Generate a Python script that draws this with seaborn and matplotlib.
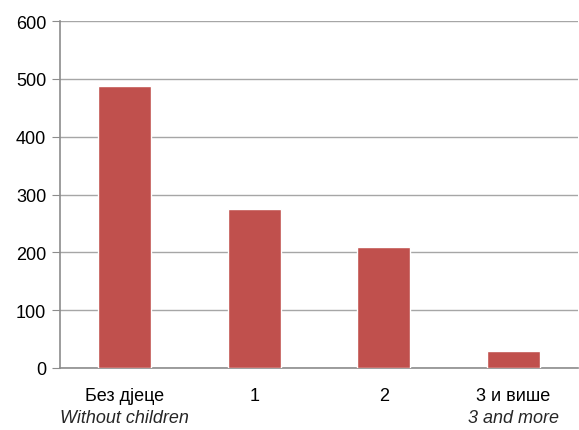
import matplotlib
matplotlib.use("Agg")
import matplotlib.pyplot as plt
import seaborn as sns
import pandas as pd

# data
categories = ["Без дјеце", "1", "2", "3 и више"]
categories_en = ["Without children", "", "", "3 and more"]
values = [488, 275, 209, 29]

df = pd.DataFrame({"cat": categories, "val": values})

sns.set_style("white")
plt.rcParams["font.family"] = ["Liberation Sans", "DejaVu Sans"]

fig = plt.figure(figsize=(5.79, 4.31), dpi=100)
ax = fig.add_axes([60 / 579, 62 / 431, 518 / 579, 347 / 431])

sns.barplot(data=df, x="cat", y="val", color="#C0504D", saturation=1,
            width=0.41, ax=ax, zorder=3)

ax.set_ylim(0, 600)
ax.set_yticks(range(0, 601, 100))
ax.set_xlim(-0.5, 3.5)
ax.yaxis.grid(True, color="#A6A6A6", linewidth=1, zorder=0)
ax.set_xlabel("")
ax.set_ylabel("")

for s in ["top", "right"]:
    ax.spines[s].set_visible(False)
for s in ["left", "bottom"]:
    ax.spines[s].set_color("#8C8C8C")
    ax.spines[s].set_linewidth(1.2)

ax.tick_params(axis="y", left=True, length=6, color="#8C8C8C",
               labelsize=13, pad=4, labelcolor="black")
ax.tick_params(axis="x", bottom=False, labelsize=13, pad=10, labelcolor="black")

# second line of the category labels, in italics
for i, lab in enumerate(categories_en):
    if lab:
        ax.annotate(lab, xy=(i, 0), xycoords=("data", "axes fraction"),
                    xytext=(0, -50), textcoords="offset pixels",
                    ha="center", va="center", fontsize=13, style="italic")

fig.savefig("out.png", dpi=100)
